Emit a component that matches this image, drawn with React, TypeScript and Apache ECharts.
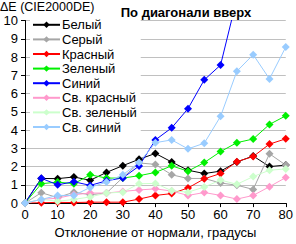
import React, { useEffect, useRef } from "react";
import * as echarts from "echarts";

const angles = [0, 5, 10, 15, 20, 25, 30, 35, 40, 45, 50, 55, 60, 65, 70, 75, 80];
const seriesNames = ["Белый", "Серый", "Красный", "Зеленый", "Синий", "Св. красный", "Св. зеленый", "Св. синий"];
const white = [0, 1.35, 1.34, 1.43, 1.25, 1.68, 2.05, 2.4, 2.72, 2.25, 1.8, 1.62, 1.75, 2.25, 2.58, 2.0, 2.08];
const gray = [0, 0.57, 0.3, 0.6, 0.46, 0.55, 1.4, 2.2, 2.12, 1.55, 1.35, 1.35, 1.1, 0.98, 0.75, 2.7, 2.08];
const red = [0, 0.02, 0.04, 0.03, 0.05, 0.05, 0.05, 0.22, 0.42, 0.52, 0.83, 1.33, 1.62, 2.27, 2.55, 3.23, 3.52];
const green = [0, 1.06, 1.15, 1.06, 1.55, 1.37, 1.37, 1.5, 1.68, 2.04, 1.75, 2.22, 2.82, 3.31, 3.51, 4.31, 4.78];
const blue = [0, 1.36, 1.0, 1.17, 0.97, 1.22, 1.38, 2.03, 3.46, 4.12, 5.17, 6.75, 7.56, 11.2, 13, 14.5, 16];
const lightRed = [0, 0.2, 0.27, 0.46, 0.55, 0.55, 0.64, 0.72, 0.78, 0.66, 0.42, 0.58, 0.42, 0.22, 0.42, 0.9, 1.4];
const lightGreen = [0, 0.2, 0.1, 0.2, 0.34, 0.55, 0.6, 1.06, 1.08, 0.68, 0.6, 0.88, 1.26, 1.03, 1.45, 1.8, 1.87];
const lightBlue = [0, 0.2, 0.42, 0.42, 0.86, 1.15, 1.55, 2.22, 3.31, 3.46, 2.97, 3.28, 4.75, 7.22, 8.13, 6.8, 8.55];
const colors = ["#000000", "#a6a6a6", "#ff0000", "#00f000", "#0000ff", "#ff99cc", "#ccffcc", "#99ccff"];
const allValues = [white, gray, red, green, blue, lightRed, lightGreen, lightBlue];

export default function App() {
  const ref = useRef<HTMLDivElement>(null);
  useEffect(() => {
    if (!ref.current) return;
    const chart = echarts.init(ref.current, null, { renderer: "svg" });
    const font = "Liberation Sans, Arial, sans-serif";
    chart.setOption({
      animation: false,
      textStyle: { fontFamily: font },
      title: {
        text: "По диагонали вверх",
        left: 181,
        textAlign: "center",
        top: 1,
        textStyle: { fontSize: 13, fontWeight: "bold", color: "#000", fontFamily: font },
      },
      graphic: [
        {
          type: "text",
          left: 0,
          top: 0,
          style: { text: "ΔE (CIE2000DE)", fontSize: 12.5, fill: "#000", fontFamily: font },
        },
      ],
      legend: {
        orient: "vertical",
        left: 30,
        top: 17,
        padding: [1, 4, 1, 2],
        backgroundColor: "#ffffff",
        itemWidth: 27,
        itemHeight: 8,
        itemGap: 1,
        textStyle: { fontSize: 13, color: "#000", fontFamily: font, lineHeight: 13.6, padding: [0, 0, 0, -3] },
        data: seriesNames,
      },
      grid: { left: 25, right: 8, top: 20.5, bottom: 40.5, containLabel: false },
      xAxis: {
        type: "value",
        min: 0,
        max: 80,
        interval: 10,
        name: "Отклонение от нормали, градусы",
        nameLocation: "middle",
        nameGap: 21,
        nameTextStyle: { fontSize: 13, color: "#000", fontFamily: font },
        axisLine: { show: true, lineStyle: { color: "#000", width: 1 } },
        axisTick: { show: true, length: 4, lineStyle: { color: "#000" } },
        axisLabel: { fontSize: 13, color: "#000", margin: 5, fontFamily: font },
        splitLine: { show: false },
      },
      yAxis: {
        type: "value",
        min: 0,
        max: 10,
        interval: 1,
        axisLine: { show: true, lineStyle: { color: "#000", width: 1 } },
        axisTick: { show: true, length: 4, lineStyle: { color: "#000" } },
        axisLabel: { fontSize: 13, color: "#000", margin: 7, fontFamily: font, verticalAlign: "middle" },
        splitLine: { show: true, lineStyle: { color: "#c0c0c0", width: 1 } },
      },
      series: seriesNames.map((name, i) => ({
        name,
        type: "line",
        data: angles.map((a, j) => [a, allValues[i][j]]),
        symbol: "diamond",
        symbolSize: 8,
        clip: true,
        itemStyle: { color: colors[i] },
        lineStyle: { color: colors[i], width: 1 },
      })),
    });
    return () => chart.dispose();
  }, []);
  return <div ref={ref} style={{ width: 296, height: 244, position: "absolute", left: 0, top: 0 }} />;
}
